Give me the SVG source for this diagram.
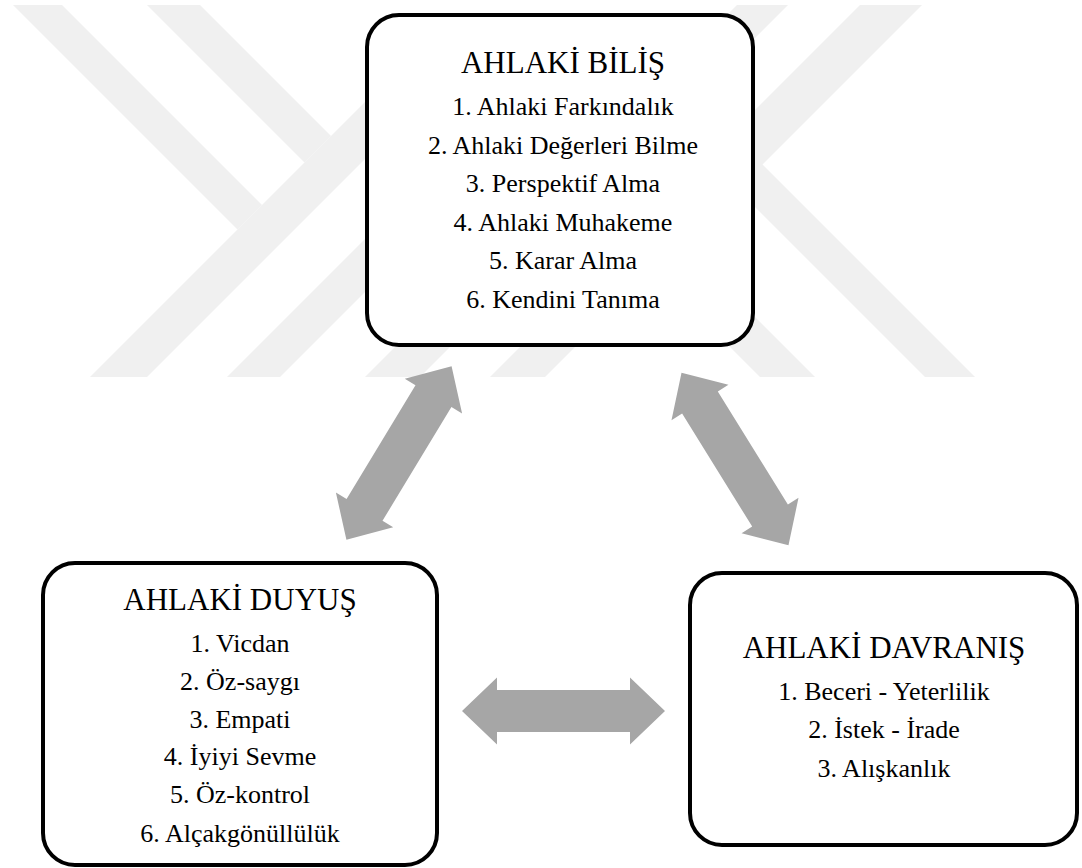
<svg xmlns="http://www.w3.org/2000/svg" xmlns:xlink="http://www.w3.org/1999/xlink" width="1082" height="868" viewBox="0 0 1082 868">
  <style>
    .wm { fill: #f0f0f0; stroke: none; }
    .box { fill: #ffffff; stroke: #000000; stroke-width: 4; }
    text { font-family: 'Liberation Serif', Tinos, 'Noto Serif', 'DejaVu Serif', FreeSerif, 'Nimbus Roman', 'Times New Roman', Times, serif; fill: #000; text-anchor: middle; }
    .title { font-size: 31px; }
    .item { font-size: 26px; }
    .arrow { fill: #a6a6a6; stroke: none; }
  </style>
  <defs>
    <path id="dbl" d="M -101.5,0 L -66.5,-33.5 L -66.5,-21 L 66.5,-21 L 66.5,-33.5 L 101.5,0 L 66.5,33.5 L 66.5,21 L -66.5,21 L -66.5,33.5 Z"/>
  </defs>
  <rect x="0" y="0" width="1082" height="868" fill="#ffffff"/>

  <g id="watermark">
    <polygon class="wm" points="13,5 62,5 262,205 237.5,229.5"/>
    <polygon class="wm" points="90,377 147,377 464,60 407,60"/>
    <polygon class="wm" points="147,5 200,5 331,136 304.5,162.5"/>
    <polygon class="wm" points="227,377 280,377 457,200 404,200"/>
    <polygon class="wm" points="365,377 420,377 470,327 415,327"/>
    <polygon class="wm" points="490,377 545,377 595,327 540,327"/>
    <polygon class="wm" points="737,5 788,5 693,100 642,100"/>
    <polygon class="wm" points="860,5 922,5 727,200 665,200"/>
    <polygon class="wm" points="668,120 718,120 975,377 925,377"/>
    <polygon class="wm" points="683,300 738,300 815,377 760,377"/>
  </g>

  <g id="connectors">
    <use xlink:href="#dbl" class="arrow" transform="translate(399,453) rotate(-58.8)"/>
    <use xlink:href="#dbl" class="arrow" transform="translate(735,459) rotate(58.2)"/>
    <use xlink:href="#dbl" class="arrow" transform="translate(563.5,711)"/>
  </g>

  <g id="node-bilis">
    <rect class="box" x="367" y="15" width="386" height="330" rx="32" ry="32"/>
    <text class="title" x="563" y="73">AHLAKİ BİLİŞ</text>
    <text class="item" x="563" y="115">1. Ahlaki Farkındalık</text>
    <text class="item" x="563" y="153.5">2. Ahlaki Değerleri Bilme</text>
    <text class="item" x="563" y="192">3. Perspektif Alma</text>
    <text class="item" x="563" y="230.5">4. Ahlaki Muhakeme</text>
    <text class="item" x="563" y="269">5. Karar Alma</text>
    <text class="item" x="563" y="307.5">6. Kendini Tanıma</text>
  </g>

  <g id="node-duyus">
    <rect class="box" x="43" y="563" width="394" height="302" rx="32" ry="32"/>
    <text class="title" x="240" y="610">AHLAKİ DUYUŞ</text>
    <text class="item" x="240" y="652">1. Vicdan</text>
    <text class="item" x="240" y="690">2. Öz-saygı</text>
    <text class="item" x="240" y="728">3. Empati</text>
    <text class="item" x="240" y="765">4. İyiyi Sevme</text>
    <text class="item" x="240" y="803">5. Öz-kontrol</text>
    <text class="item" x="240" y="842">6. Alçakgönüllülük</text>
  </g>

  <g id="node-davranis">
    <rect class="box" x="690" y="573" width="387" height="272" rx="32" ry="32"/>
    <text class="title" x="884" y="658">AHLAKİ DAVRANIŞ</text>
    <text class="item" x="884" y="700">1. Beceri - Yeterlilik</text>
    <text class="item" x="884" y="738">2. İstek - İrade</text>
    <text class="item" x="884" y="777">3. Alışkanlık</text>
  </g>
</svg>
